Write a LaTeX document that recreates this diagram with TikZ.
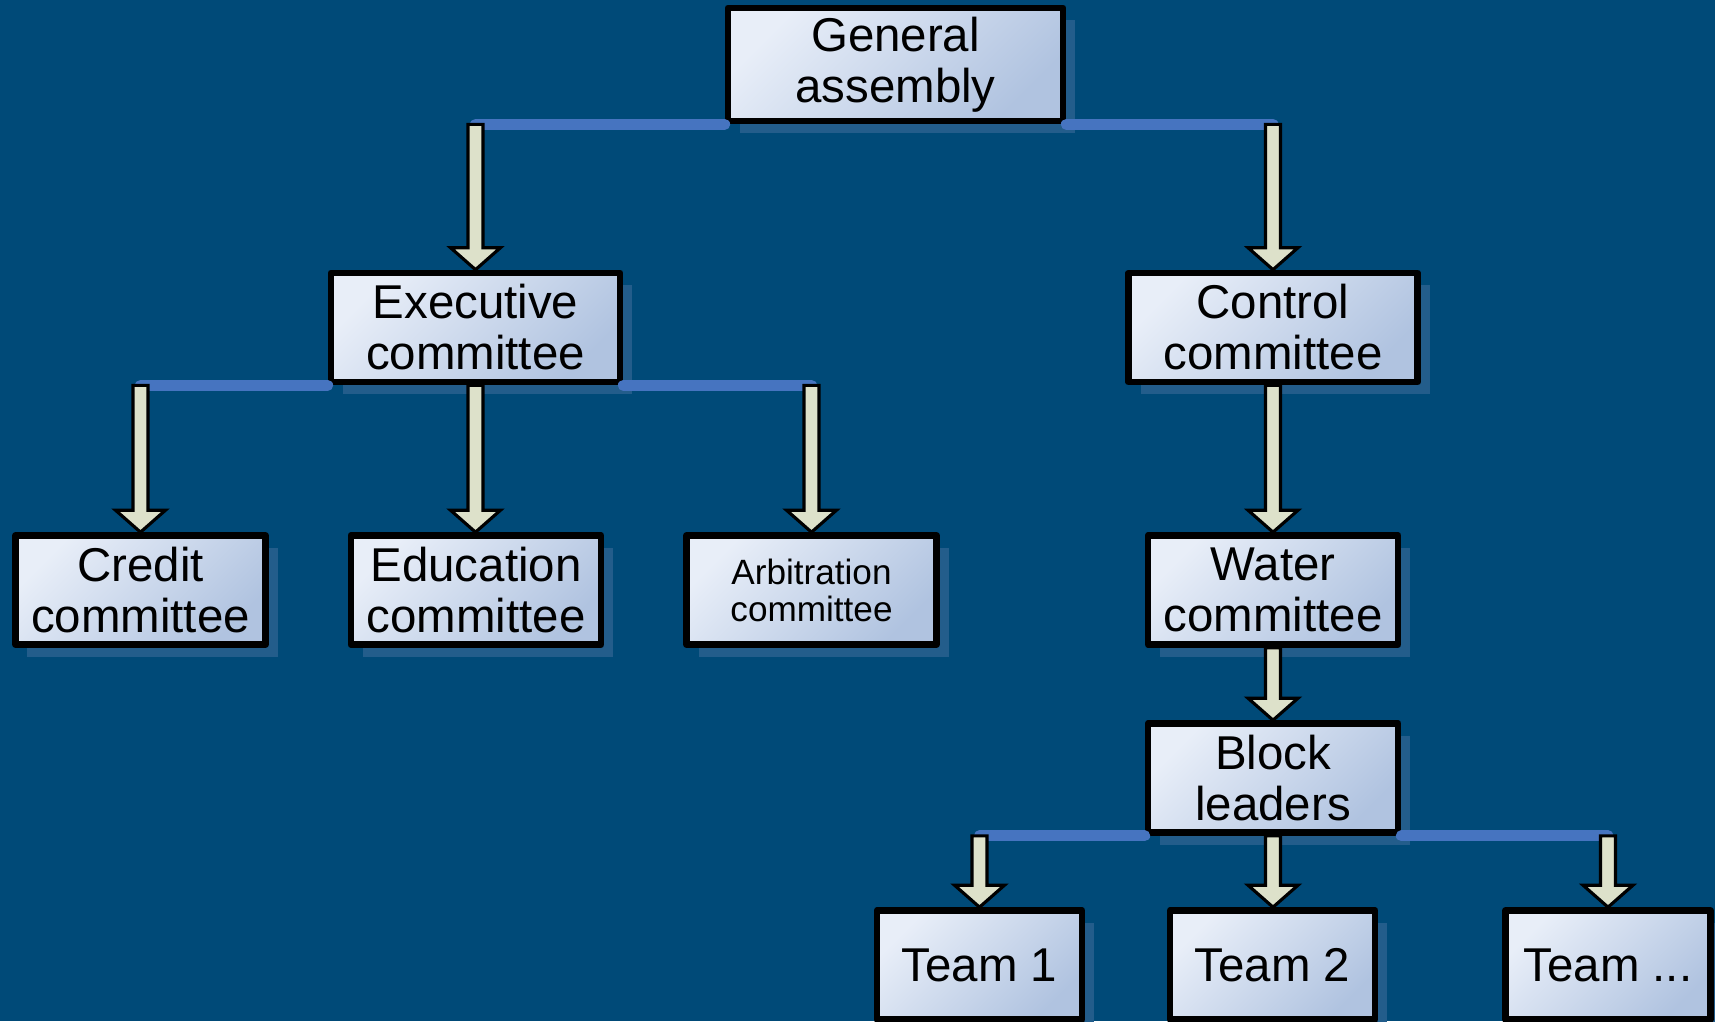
\documentclass[tikz,border=0pt]{standalone}
\usepackage{fontspec}
\setmainfont{Liberation Sans}
\usetikzlibrary{calc,shadows}
\definecolor{bgblue}{HTML}{004A78}
\definecolor{barblue}{HTML}{4674C0}
\definecolor{boxlight}{HTML}{E8EEF8}
\definecolor{boxdark}{HTML}{B0C3E0}
\definecolor{shadowblue}{HTML}{235D8B}
\definecolor{arrowfill}{HTML}{DDE1CA}
\tikzset{
unitbox/.style={draw=black,line width=1.9pt,top color=boxlight,bottom color=boxdark,shading angle=45,
  align=center,inner sep=0pt,minimum width=2.5cm,minimum height=1.09cm,font=\fontsize{13.5}{14.5}\selectfont,
  drop shadow={shadow xshift=0.12cm,shadow yshift=-0.12cm,fill=shadowblue,opacity=1}},
bar/.style={barblue,line width=0.11cm,line cap=round},
fatarrow/.style={draw=black,line width=0.9pt,fill=arrowfill,line join=miter}
}
\newcommand \mydrawarrow[2]
{
\draw[fatarrow] let \p1=(#1), \p2=(#2) in
 (\x1-0.075cm,\y1)--(\x1-0.075cm,\y2+0.22cm)--(\x1-0.25cm,\y2+0.22cm)--(\x1,\y2)
 --(\x1+0.25cm,\y2+0.22cm)--(\x1+0.075cm,\y2+0.22cm)--(\x1+0.075cm,\y1)--cycle;
}

\begin{document}
\begin{tikzpicture}[line join=round]
\useasboundingbox (0,0) rectangle (17.15,-10.21);
\fill[bgblue] (0,0) rectangle (17.15,-10.21);
\node[unitbox,minimum width=3.35cm,minimum height=1.13cm] (GA) at (8.955,-0.645) {General\\assembly};
\node[unitbox,minimum width=2.89cm] (EC) at (4.755,-3.275) {Executive\\committee};
\node[unitbox,minimum width=2.89cm] (CC) at (12.73,-3.275) {Control\\committee};
\node[unitbox] (CR) at (1.405,-5.90) {Credit\\committee};
\node[unitbox] (ED) at (4.76,-5.90) {Education\\committee};
\node[unitbox,font=\fontsize{10}{10.5}\selectfont] (AR) at (8.115,-5.90) {Arbitration\\committee};
\node[unitbox] (WC) at (12.73,-5.90) {Water\\committee};
\node[unitbox] (BL) at (12.73,-7.78) {Block\\leaders};
\node[unitbox,minimum width=2.05cm] (T1) at (9.795,-9.65) {Team 1};
\node[unitbox,minimum width=2.05cm] (T2) at (12.725,-9.65) {Team 2};
\node[unitbox,minimum width=2.05cm] (T3) at (16.08,-9.65) {Team ...};
% branch bars under the parent boxes
\draw[bar] (GA.south west)--(GA.south west -| EC);
\draw[bar] (GA.south east)--(GA.south east -| CC);
\draw[bar] (EC.south west)--(EC.south west -| CR);
\draw[bar] (EC.south east)--(EC.south east -| AR);
\draw[bar] (BL.south west)--(BL.south west -| T1);
\draw[bar] (BL.south east)--(BL.south east -| T3);
% block arrows down to the children
\mydrawarrow{GA.south west -| EC}{EC.north}
\mydrawarrow{GA.south east -| CC}{CC.north}
\mydrawarrow{EC.south west -| CR}{CR.north}
\mydrawarrow{EC.south}{ED.north}
\mydrawarrow{EC.south east -| AR}{AR.north}
\mydrawarrow{CC.south}{WC.north}
\mydrawarrow{WC.south}{BL.north}
\mydrawarrow{BL.south west -| T1}{T1.north}
\mydrawarrow{BL.south}{T2.north}
\mydrawarrow{BL.south east -| T3}{T3.north}
\end{tikzpicture}
\end{document}
